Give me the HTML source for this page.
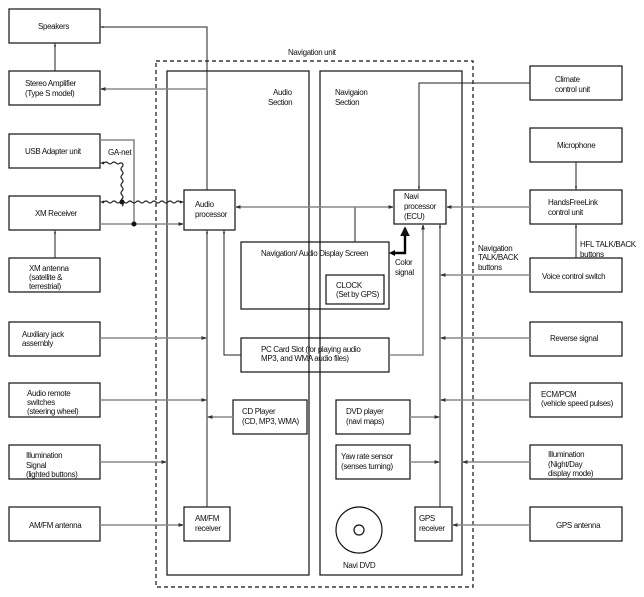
<!DOCTYPE html>
<html><head><style>
html,body{margin:0;padding:0;background:#fff;}
svg{display:block;}
text{font-family:"Liberation Sans",sans-serif;font-size:8px;fill:#111;letter-spacing:-0.35px;}
</style></head><body>
<svg width="644" height="597" viewBox="0 0 644 597" xmlns="http://www.w3.org/2000/svg">
<defs>
<marker id="a" viewBox="0 0 6 6" refX="6" refY="3" markerWidth="3.5" markerHeight="3.5" orient="auto"><path d="M0,1 L6,3 L0,5 z" fill="#333"/></marker>
<marker id="t" viewBox="0 0 6 6" refX="5" refY="3" markerWidth="4" markerHeight="4" orient="auto"><path d="M0,0 L6,3 L0,6 z" fill="#111"/></marker>
</defs>
<g fill="none" stroke="#111" stroke-width="1.2">
<rect x="156" y="61" width="317" height="526" stroke-dasharray="4,3"/>
<rect x="167" y="71" width="142" height="504"/>
<rect x="320" y="71" width="142" height="504"/>
<rect x="9" y="9" width="91" height="34"/>
<rect x="9" y="71" width="91" height="34"/>
<rect x="9" y="134" width="91" height="34"/>
<rect x="9" y="196" width="91" height="34"/>
<rect x="9" y="258" width="91" height="34"/>
<rect x="9" y="322" width="91" height="34"/>
<rect x="9" y="383" width="91" height="34"/>
<rect x="9" y="445" width="91" height="34"/>
<rect x="9" y="507" width="91" height="34"/>
<rect x="530" y="66" width="92" height="34"/>
<rect x="530" y="128" width="92" height="34"/>
<rect x="530" y="190" width="92" height="34"/>
<rect x="530" y="258" width="92" height="34"/>
<rect x="530" y="322" width="92" height="34"/>
<rect x="530" y="383" width="92" height="34"/>
<rect x="530" y="445" width="92" height="34"/>
<rect x="530" y="507" width="92" height="34"/>
<rect x="184" y="190" width="51" height="40"/>
<rect x="394" y="190" width="52" height="34"/>
<rect x="241" y="242" width="148" height="67"/>
<rect x="326" y="275" width="58" height="29"/>
<rect x="241" y="338" width="148" height="34"/>
<rect x="233" y="400" width="74" height="34"/>
<rect x="336" y="400" width="74" height="34"/>
<rect x="336" y="445" width="74" height="34"/>
<rect x="184" y="507" width="46" height="34"/>
<rect x="415" y="507" width="37" height="34"/>
<circle cx="359" cy="530" r="23"/>
<circle cx="359" cy="530" r="5"/>
</g>
<g fill="none" stroke="#222" stroke-width="1">
<polyline points="207,190 207,27 100,27" marker-end="url(#a)"/>
<line x1="55" y1="71" x2="55" y2="43" marker-end="url(#a)"/>
<line x1="55" y1="258" x2="55" y2="230" marker-end="url(#a)"/>
<line x1="207" y1="507" x2="207" y2="230" marker-end="url(#a)"/>
<polyline points="241,355 224,355 224,230" marker-end="url(#a)"/>
<polyline points="530,83 419,83 419,190" marker-end="url(#a)"/>
<line x1="576" y1="162" x2="576" y2="190" marker-end="url(#a)"/>
<line x1="576" y1="258" x2="576" y2="224" marker-end="url(#a)"/>
<line x1="440" y1="507" x2="440" y2="224" marker-end="url(#a)"/>
<line x1="355" y1="207" x2="355" y2="242"/>
</g>
<g fill="none" stroke="#888" stroke-width="1.6">
<line x1="207" y1="89" x2="100" y2="89" marker-end="url(#a)"/>
<polyline points="100,140 134,140 134,224"/>
<line x1="100" y1="224" x2="184" y2="224" marker-end="url(#a)"/>
<line x1="300" y1="207" x2="235" y2="207" marker-end="url(#a)"/>
<line x1="300" y1="207" x2="394" y2="207" marker-end="url(#a)"/>
<line x1="530" y1="207" x2="446" y2="207" marker-end="url(#a)"/>
<line x1="530" y1="275" x2="440" y2="275" marker-end="url(#a)"/>
<polyline points="389,355 423,355 423,224" marker-end="url(#a)"/>
<line x1="100" y1="338" x2="207" y2="338" marker-end="url(#a)"/>
<line x1="530" y1="338" x2="440" y2="338" marker-end="url(#a)"/>
<line x1="100" y1="400" x2="207" y2="400" marker-end="url(#a)"/>
<line x1="530" y1="400" x2="440" y2="400" marker-end="url(#a)"/>
<line x1="233" y1="417" x2="207" y2="417" marker-end="url(#a)"/>
<line x1="410" y1="417" x2="440" y2="417" marker-end="url(#a)"/>
<line x1="100" y1="462" x2="167" y2="462" marker-end="url(#a)"/>
<line x1="410" y1="462" x2="440" y2="462" marker-end="url(#a)"/>
<line x1="530" y1="462" x2="462" y2="462" marker-end="url(#a)"/>
<line x1="100" y1="525" x2="184" y2="525" marker-end="url(#a)"/>
<line x1="530" y1="525" x2="452" y2="525" marker-end="url(#a)"/>
</g>
<g fill="none" stroke="#222" stroke-width="1.2">
<path d="M104,163 q2,-2 4,0 t4,0 t4,0 t4,0 l2,0 M122,163 q2,2 0,4 t0,4 t0,4 t0,4 t0,4 t0,4 t0,4 t0,4 t0,4 t0,4 t0,3"/>
<path d="M104,202 q2,-2 4,0 t4,0 t4,0 t4,0 t4,0 t4,0 t4,0 t4,0 t4,0 t4,0 t4,0 t4,0 t4,0 t4,0 t4,0 t4,0 t4,0 t4,0 t4,0 l2,0"/>
</g>
<path d="M100,163 l4,-1.5 v3z M100,202 l4,-1.5 v3z M184,202 l-4,-1.5 v3z" fill="#222"/>
<circle cx="122" cy="202" r="2.5" fill="#111"/>
<circle cx="134" cy="224" r="2.5" fill="#111"/>
<polyline points="392,253 405,253 405,228" fill="none" stroke="#000" stroke-width="2.4" marker-end="url(#t)"/>
<path d="M389,253 l6,-3 v6z" fill="#000"/>
<text x="38" y="29">Speakers</text>
<text x="25" y="86">Stereo Amplifier</text>
<text x="25" y="96">(Type S model)</text>
<text x="25" y="154">USB Adapter unit</text>
<text x="35" y="216">XM Receiver</text>
<text x="29" y="271">XM antenna</text>
<text x="29" y="280">(satellite &amp;</text>
<text x="29" y="289">terrestrial)</text>
<text x="22" y="337">Auxiliary jack</text>
<text x="22" y="346">assembly</text>
<text x="27" y="396">Audio remote</text>
<text x="27" y="405">switches</text>
<text x="27" y="414">(steering wheel)</text>
<text x="26" y="458">Illumination</text>
<text x="26" y="468">Signal</text>
<text x="26" y="477">(lighted buttons)</text>
<text x="29" y="528">AM/FM antenna</text>
<text x="108" y="155">GA-net</text>
<text x="288" y="55">Navigation unit</text>
<text x="273" y="95">Audio</text>
<text x="268" y="105">Section</text>
<text x="335" y="95">Navigaion</text>
<text x="335" y="105">Section</text>
<text x="195" y="207">Audio</text>
<text x="195" y="217">processor</text>
<text x="404" y="199">Navi</text>
<text x="404" y="209">processor</text>
<text x="404" y="219">(ECU)</text>
<text x="261" y="256">Navigation/ Audio Display Screen</text>
<text x="336" y="288">CLOCK</text>
<text x="336" y="297">(Set by GPS)</text>
<text x="395" y="265">Color</text>
<text x="395" y="275">signal</text>
<text x="261" y="352">PC Card Slot (for playing audio</text>
<text x="261" y="361">MP3, and WMA audio files)</text>
<text x="242" y="414">CD Player</text>
<text x="242" y="424">(CD, MP3, WMA)</text>
<text x="346" y="414">DVD player</text>
<text x="346" y="424">(navi maps)</text>
<text x="341" y="459">Yaw rate sensor</text>
<text x="341" y="469">(senses turning)</text>
<text x="195" y="521">AM/FM</text>
<text x="195" y="531">receiver</text>
<text x="419" y="521">GPS</text>
<text x="419" y="531">receiver</text>
<text x="343" y="568">Navi DVD</text>
<text x="555" y="82">Climate</text>
<text x="555" y="92">control unit</text>
<text x="557" y="148">Microphone</text>
<text x="548" y="205">HandsFreeLink</text>
<text x="548" y="215">control unit</text>
<text x="580" y="247">HFL TALK/BACK</text>
<text x="580" y="257">buttons</text>
<text x="478" y="251">Navigation</text>
<text x="478" y="260">TALK/BACK</text>
<text x="478" y="270">buttons</text>
<text x="542" y="279">Voice control switch</text>
<text x="550" y="341">Reverse signal</text>
<text x="541" y="397">ECM/PCM</text>
<text x="541" y="406">(vehicle speed pulses)</text>
<text x="548" y="457">Illumination</text>
<text x="548" y="467">(Night/Day</text>
<text x="548" y="476">display mode)</text>
<text x="556" y="528">GPS antenna</text>
</svg>
</body></html>
